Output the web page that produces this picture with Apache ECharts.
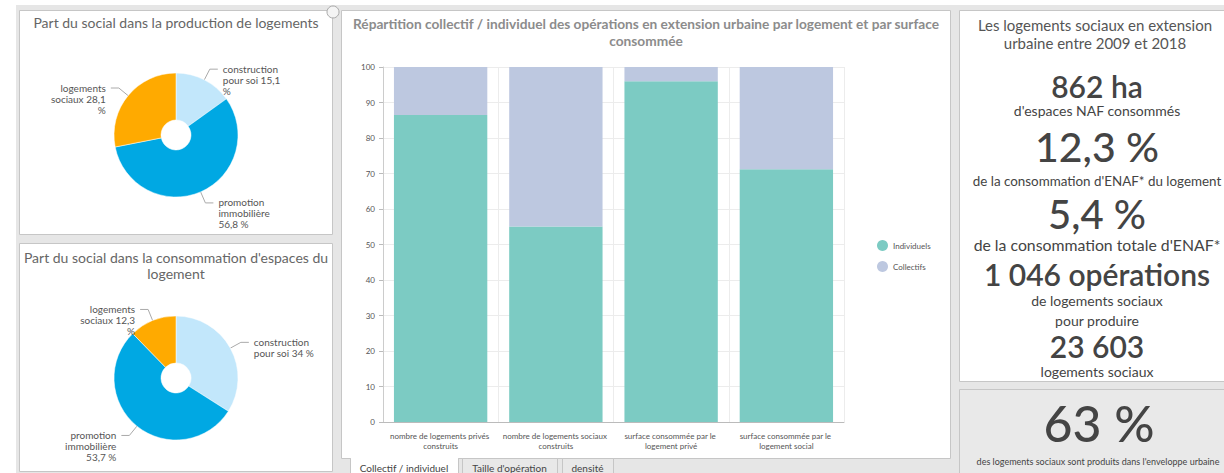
<!DOCTYPE html>
<html><head><meta charset="utf-8">
<script src="https://cdn.jsdelivr.net/npm/echarts@6/dist/echarts.min.js"></script>
<style>html,body{margin:0;padding:0;background:#fff}#c{width:1224px;height:473px}</style>
</head><body><div id="c"></div>
<script>
// ---- data ----
const pieNames = ['construction pour soi', 'promotion immobilière', 'logements sociaux'];
const pieColors = ['#c2e7fb', '#00a8e3', '#ffaa00'];
const productionShares = [15.1, 56.8, 28.1];
const consumptionShares = [34, 53.7, 12.3];
const barCategories = ['nombre de logements privés construits', 'nombre de logements sociaux construits', 'surface consommée par le logement privé', 'surface consommée par le logement social'];
const seriesNames = ['Individuels', 'Collectifs'];
const individuels = [86.5, 55.1, 96.0, 71.2];
const collectifs = [13.5, 44.9, 4.0, 28.8];
const tabLabels = ['Collectif / individuel', "Taille d'opération", 'densité'];
const kpiTitle = ['Les logements sociaux en extension', 'urbaine entre 2009 et 2018'];
// [text, weight, y, size]
const kpiLines = [
  ['862 ha', 600, 86, 30],
  ["d'espaces NAF consommés", 'normal', 110, 14],
  ['12,3 %', 500, 146, 41],
  ["de la consommation d'ENAF* du logement", 'normal', 181, 13.4],
  ['5,4 %', 500, 214, 40],
  ["de la consommation totale d'ENAF*", 'normal', 244, 15.8],
  ['1 046 opérations', 600, 274, 30],
  ['de logements sociaux', 'normal', 300, 14],
  ['pour produire', 'normal', 320, 14],
  ['23 603', 600, 346, 30],
  ['logements sociaux', 'normal', 371, 14]
];
const kpi2 = ['63 %', "des logements sociaux sont produits dans l'enveloppe urbaine"];

const FONT = 'Lato, "Noto Sans", sans-serif';
const fmt = v => String(v).replace('.', ',');
function wrap(s, max) {
  const words = s.split(' '), lines = [];
  let cur = '';
  words.forEach(w => {
    if (!cur) cur = w;
    else if ((cur + ' ' + w).length <= max) cur += ' ' + w;
    else { lines.push(cur); cur = w; }
  });
  if (cur) lines.push(cur);
  return lines.join('\n');
}

function pieSeries(values, center) {
  return {
    type: 'pie',
    center: center,
    radius: [15, 62],
    startAngle: 90,
    clockwise: true,
    itemStyle: { borderColor: '#fff', borderWidth: 0.5 },
    label: {
      formatter: p => wrap(p.name + ' ' + fmt(p.value) + ' %', 13),
      fontFamily: FONT, fontSize: 10, color: '#555', lineHeight: 11
    },
    labelLine: { length: 12, length2: 8, lineStyle: { color: '#aaa', width: 1 } },
    labelLayout: p => ({ dy: p.labelRect.height / 2 - 6 }),
    emphasis: { disabled: true },
    data: values.map((v, i) => ({ name: pieNames[i], value: v, itemStyle: { color: pieColors[i] } }))
  };
}

const g = [];
const rect = (x, y, w, h, fill, stroke) => g.push({ type: 'rect', z: -10, silent: true, shape: { x, y, width: w, height: h }, style: { fill, stroke: stroke || null, lineWidth: 1 } });
const text = (t, x, y, size, color, weight, align) => g.push({ type: 'text', z: 10, silent: true, x, y, style: { text: t, fontFamily: FONT, fontSize: size, fill: color, fontWeight: weight || 'normal', align: align || 'center', verticalAlign: 'middle' } });

// page background
rect(16, 5, 1210, 470, '#e6e6e6');
// panels
rect(19.5, 10.5, 313, 224, '#fff', '#c6c6c6');
rect(19.5, 243.5, 313, 228, '#fff', '#c6c6c6');
rect(341.5, 10.5, 609, 448, '#fff', '#c6c6c6');
rect(959.5, 10.5, 268, 371, '#fff', '#c6c6c6');
rect(959.5, 389.5, 268, 90, '#e9e9e9', '#c6c6c6');
// expand icon
g.push({ type: 'circle', z: 10, silent: true, shape: { cx: 333, cy: 12, r: 6 }, style: { fill: '#f4f4f4', stroke: '#aaa', lineWidth: 1 } });

// panel titles
text('Part du social dans la production de logements', 176, 22, 14, '#666');
text("Part du social dans la consommation d'espaces du", 176, 257, 14, '#666');
text('logement', 176, 273, 14, '#666');
text('Répartition collectif / individuel des opérations en extension urbaine par logement et par surface', 646, 23, 13.7, '#8c8c8c', 'bold');
text('consommée', 646, 40, 13.7, '#8c8c8c', 'bold');

// tabs
const tabX = [350, 462, 562], tabW = [108, 95, 51];
tabLabels.forEach((t, i) => {
  rect(tabX[i] + 0.5, 458.5, tabW[i], 20, i === 0 ? '#fff' : '#e8e8e8', '#c6c6c6');
  text(t, tabX[i] + tabW[i] / 2, 468, 10, '#444');
});
g.push({ type: 'rect', z: -9, silent: true, shape: { x: 351, y: 457, width: 107, height: 3 }, style: { fill: '#fff' } });

// KPI panel
text(kpiTitle[0], 1095, 25, 15, '#555');
text(kpiTitle[1], 1095, 43, 15, '#555');
kpiLines.forEach(l => text(l[0], 1097, l[2], l[3], '#444', l[1]));
text(kpi2[0], 1099, 423, 50, '#444', 500);
text(kpi2[1], 1098, 461, 9, '#444');

const chart = echarts.init(document.getElementById('c'), null, { renderer: 'svg' });
chart.setOption({
  animation: false,
  graphic: g,
  color: ['#7ccbc3', '#bdc8e0'],
  legend: {
    data: seriesNames, orient: 'vertical', left: 872, top: 235,
    icon: 'circle', itemWidth: 11, itemHeight: 11, itemGap: 10,
    textStyle: { fontFamily: FONT, fontSize: 8, color: '#555' }
  },
  grid: { left: 383, top: 67, right: 380, bottom: 51, containLabel: false },
  xAxis: {
    type: 'category', data: barCategories,
    axisLine: { lineStyle: { color: '#bbb' } },
    axisTick: { alignWithLabel: true, length: 4, lineStyle: { color: '#aaa' } },
    splitLine: { show: true, lineStyle: { color: '#ececec' } },
    axisLabel: { interval: 0, width: 112, overflow: 'break', fontFamily: FONT, fontSize: 8, color: '#555', lineHeight: 10, margin: 9 }
  },
  yAxis: {
    type: 'value', min: 0, max: 100, interval: 10,
    axisLine: { show: true, lineStyle: { color: '#ccc' } },
    axisTick: { show: true, length: 4, lineStyle: { color: '#bbb' } },
    splitLine: { lineStyle: { color: '#ececec' } },
    axisLabel: { fontFamily: FONT, fontSize: 8, color: '#555', margin: 8 }
  },
  series: [
    { name: seriesNames[0], type: 'bar', stack: 's', data: individuels, barWidth: '81%', emphasis: { disabled: true } },
    { name: seriesNames[1], type: 'bar', stack: 's', data: collectifs, barWidth: '81%', emphasis: { disabled: true } },
    pieSeries(productionShares, [176, 135]),
    pieSeries(consumptionShares, [176, 378])
  ]
});
</script></body></html>
